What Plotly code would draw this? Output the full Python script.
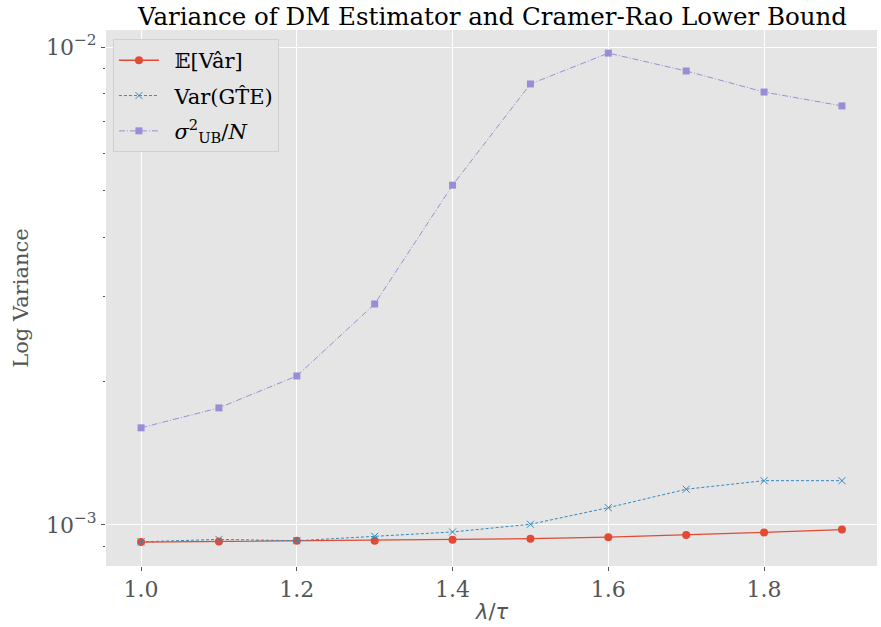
import plotly.graph_objects as go

x_vals = [1.0, 1.1, 1.2, 1.3, 1.4, 1.5, 1.6, 1.7, 1.8, 1.9]
exp_var = [9.21e-4, 9.24e-4, 9.27e-4, 9.27e-4, 9.31e-4, 9.36e-4, 9.43e-4, 9.53e-4, 9.65e-4, 9.78e-4]
var_gte = [9.22e-4, 9.33e-4, 9.27e-4, 9.47e-4, 9.67e-4, 1.0035e-3, 1.087e-3, 1.188e-3, 1.238e-3, 1.238e-3]
sigma_ub = [1.597e-3, 1.758e-3, 2.05e-3, 2.90e-3, 5.14e-3, 8.37e-3, 9.71e-3, 8.91e-3, 8.05e-3, 7.53e-3]

names = ["\u2002𝔼[Vâr]", "\u2002Var(GT̂E)", "\u2002<i>σ</i><sup>2</sup><sub>UB</sub>/<i>N</i>"]
colors = ["#E24A33", "#348ABD", "#988ED5"]

x_ticks = [1.0, 1.2, 1.4, 1.6, 1.8]
x_ticktext = ["1.0", "1.2", "1.4", "1.6", "1.8"]
y_ticks = [1e-3, 1e-2]
y_ticktext = ["10<sup>−3</sup>", "10<sup>−2</sup>"]
y_minor = [9e-4] + [k * 1e-3 for k in range(2, 10)]

serif = "DejaVu Serif"
fig = go.Figure()
fig.add_trace(go.Scatter(x=x_vals, y=exp_var, name=names[0], mode="lines+markers", legendgroup="a",
                         line=dict(color=colors[0], width=1.3),
                         marker=dict(symbol="circle", size=8, color=colors[0])))
fig.add_trace(go.Scatter(x=x_vals, y=var_gte, name=names[1], mode="lines+markers", legendgroup="b",
                         line=dict(color=colors[1], width=1, dash="3px,2px"),
                         marker=dict(symbol="x-thin", size=7, line=dict(color=colors[1], width=1))))
fig.add_trace(go.Scatter(x=x_vals, y=sigma_ub, name=names[2], mode="lines+markers", legendgroup="c",
                         line=dict(color=colors[2], width=1, dash="6px,2px,1px,2px"),
                         marker=dict(symbol="square", size=7, color=colors[2])))

fig.update_layout(
    width=881, height=627,
    margin=dict(l=106, r=4, t=30, b=61, autoexpand=False),
    paper_bgcolor="white", plot_bgcolor="#E5E5E5",
    showlegend=True,
    legend=dict(x=0.009, y=0.983, xanchor="left", yanchor="top",
                bgcolor="#E5E5E5", bordercolor="#D0D0D0", borderwidth=1,
                font=dict(family=serif, size=21, color="black"),
                itemwidth=40, tracegroupgap=5),
    xaxis=dict(range=[0.955, 1.945], tickvals=x_ticks, ticktext=x_ticktext, automargin=False,
               showgrid=True, gridcolor="white", gridwidth=1, zeroline=False,
               ticks="outside", ticklen=4, tickcolor="#555555",
               tickfont=dict(family=serif, size=22, color="#555555")),
    yaxis=dict(type="log", range=[-3.0858, -1.9644], tickvals=y_ticks, ticktext=y_ticktext, automargin=False,
               showgrid=True, gridcolor="white", gridwidth=1, zeroline=False,
               ticks="outside", ticklen=4, tickcolor="#555555",
               tickfont=dict(family=serif, size=22, color="#555555"),
               minor=dict(tickvals=y_minor, ticks="outside", ticklen=2, tickcolor="#555555", showgrid=False),
               title=dict(text="Log Variance", font=dict(family=serif, size=21, color="#555555"), standoff=11)),
    annotations=[
        dict(text="Variance of DM Estimator and Cramer-Rao Lower Bound", xref="paper", yref="paper",
             x=0.5, y=1.0, xanchor="center", yanchor="bottom", yshift=-3, showarrow=False,
             font=dict(family=serif, size=24.5, color="black")),
        dict(text="<i>λ</i>/<i>τ</i>", xref="paper", yref="paper", x=0.5, y=0, xanchor="center",
             yanchor="middle", yshift=-46, showarrow=False,
             font=dict(family="DejaVu Sans", size=21, color="#555555")),
    ],
)

fig.write_html("out.html", post_script="document.body.style.margin='0';",
               config={"displayModeBar": False})
